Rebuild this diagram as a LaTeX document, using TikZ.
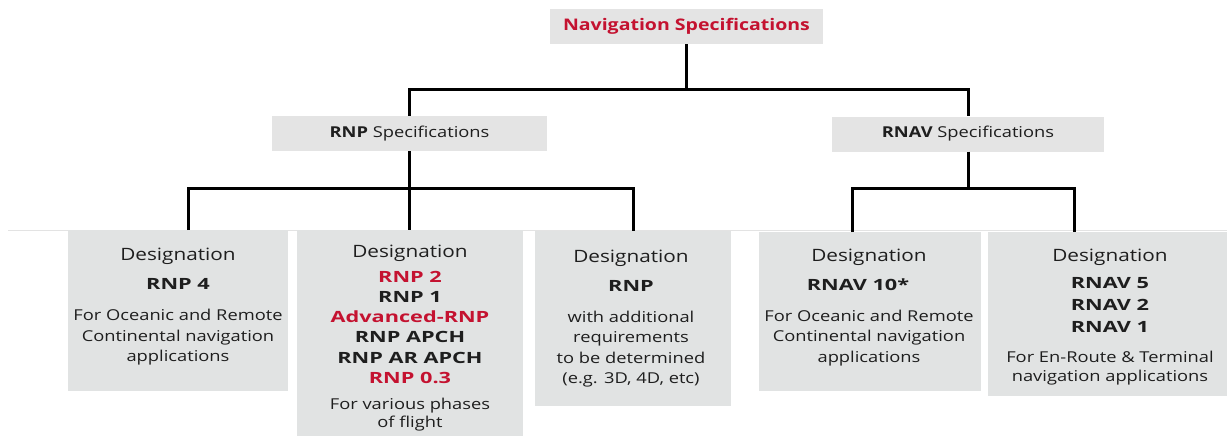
\documentclass[tikz,border=0pt]{standalone}
\usepackage{fontspec}
\setmainfont{Open Sans}[FakeStretch=1.22]
\newfontfamily\widefont{Open Sans}[FakeStretch=1.4]
\definecolor{navred}{HTML}{C41230}
\definecolor{txt}{HTML}{1E1E1E}
\definecolor{boxfill}{HTML}{E1E3E3}
\definecolor{hdrfill}{HTML}{E4E4E4}
\begin{document}
\begin{tikzpicture}[x=1pt,y=-1pt,
  hbox/.style={fill=hdrfill, inner sep=0, minimum height=35, text=txt, font=\fontsize{15}{18}\selectfont},
  dbox/.style={fill=boxfill, inner sep=0, anchor=north west},
  dtext/.style={anchor=north, inner sep=0, align=center, text=txt, font=\fontsize{15}{20}\selectfont},
  conn/.style={line width=3pt, black},
]
\useasboundingbox (0,0) rectangle (1227,436);
\newcommand\dsg{{\fontsize{17}{20}\selectfont Designation}}
\newcommand\bd[1]{{\widefont\bfseries\fontsize{15.5}{20}\selectfont #1}}
\newcommand\rd[1]{\textcolor{navred}{#1}}

\draw[gray!22, line width=1pt] (8,230.5) -- (1227,230.5);

\node[hbox, minimum width=273, font=\fontsize{16}{18}\selectfont\bfseries, text=navred] (nav) at (686.5,26.5) {Navigation Specifications};
\node[hbox, minimum width=275] (rnp) at (409.5,133.5) {\textbf{RNP} Specifications};
\node[hbox, minimum width=272] (rnav) at (968,134) {\textbf{RNAV} Specifications};

\node[dbox, minimum width=220, minimum height=161] (b1) at (68,230) {};
\node[dbox, minimum width=226, minimum height=206] (b2) at (297,230) {};
\node[dbox, minimum width=196, minimum height=175] (b3) at (535,231) {};
\node[dbox, minimum width=222, minimum height=159] (b4) at (759,232) {};
\node[dbox, minimum width=239, minimum height=164] (b5) at (988,232) {};

\node[dtext] (t1) at (178,248) {\dsg\\[9pt] \bd{RNP 4}\\[11pt] For Oceanic and Remote\\[1pt] Continental navigation\\ applications};
\node[dtext] (t2) at (410,245) {\dsg\\[5pt] \bd{\rd{RNP 2}}\\ \bd{RNP 1}\\ \bd{\rd{Advanced-RNP}}\\ \bd{RNP APCH}\\[1pt] \bd{RNP AR APCH}\\ \bd{\rd{RNP 0.3}}\\[6pt] For various phases\\[-2pt] of flight};
\node[dtext] (t3) at (631,250) {\dsg\\[9pt] \bd{RNP}\\[11pt] with additional\\ requirements\\[1pt] to be determined\\ (e.g. 3D, 4D, etc)};
\node[dtext] (t4) at (869,249) {\dsg\\[9pt] \bd{RNAV 10*}\kern22pt\\[11pt] For Oceanic and Remote\\ Continental navigation\\[1pt] applications};
\node[dtext] (t5) at (1110,249) {\dsg\\[7pt] \bd{RNAV 5}\\[2pt] \bd{RNAV 2}\\[2pt] \bd{RNAV 1}\\[10pt] For En-Route \& Terminal\\[-1pt] navigation applications};

\coordinate (d1) at (188,230);
\coordinate (d4) at (852,232);
\coordinate (d5) at (1074,232);

\draw[conn] (nav.south) -- ++(0,46);
\draw[conn] (rnp.north) -- ++(0,-26) -| (rnav.north);
\draw[conn] (rnp.south) -- (rnp.south |- b2.north);
\draw[conn] (d1) -- ++(0,-42) -| (b3.north);
\draw[conn] (rnav.south) -- ++(0,37);
\draw[conn] (d4) -- ++(0,-44) -| (d5);
\end{tikzpicture}
\end{document}
